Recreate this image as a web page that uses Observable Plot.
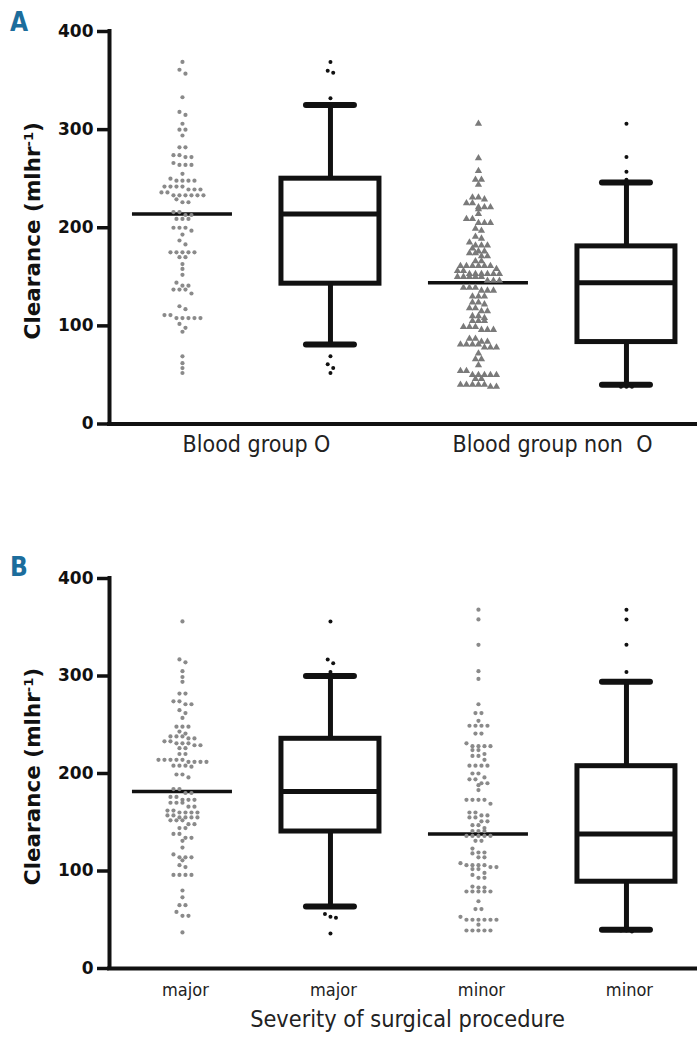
<!DOCTYPE html>
<html><head><meta charset="utf-8">
<script src="https://cdn.jsdelivr.net/npm/d3@7"></script>
<script src="https://cdn.jsdelivr.net/npm/@observablehq/plot@0.6"></script>
<style>
body{margin:0;background:#fff;}
#wrap{position:relative;width:697px;height:1042px;overflow:hidden;}
.panel{position:absolute;left:0;z-index:1;}
.tag{position:absolute;left:10px;z-index:5;font-family:"Liberation Sans Narrow","DejaVu Sans Condensed","Liberation Sans",sans-serif;font-weight:bold;font-size:26px;line-height:26px;color:#1c6d9c;}
svg text{white-space:pre;}
</style></head><body>
<div id="wrap">
<div class="panel" id="pa" style="top:0px"></div>
<div class="panel" id="pb" style="top:470px"></div>
<div class="tag" style="top:9px">A</div>
<div class="tag" style="top:554px">B</div>
</div>
<script>
// ---------- Data ----------
const yTicks = [0, 100, 200, 300, 400];
const yTitle = "Clearance (mlhr-1)";

// Panel A
const A_groups = ["Blood group O", "Blood group non  O"];
const A_valuesO = [369, 361, 357, 333, 318, 315, 306, 300, 300, 294, 282, 282, 274, 274, 272, 272, 266, 264, 264, 264, 255, 250, 248, 248, 248, 248, 242, 242, 242, 242, 239, 239, 239, 236, 236, 233, 233, 233, 233, 233, 233, 229, 226, 226, 216, 216, 213, 213, 209, 209, 209, 200, 200, 200, 197, 193, 187, 183, 175, 175, 175, 175, 175, 170, 170, 163, 158, 152, 144, 141, 141, 137, 137, 137, 133, 120, 117, 111, 111, 108, 108, 108, 108, 108, 102, 98, 94, 69, 62, 57, 52];
const A_valuesNonO = [306, 271, 258, 249, 249, 244, 231, 231, 229, 225, 225, 221, 221, 221, 219, 214, 209, 209, 205, 205, 205, 199, 197, 191, 189, 185, 182, 182, 182, 179, 176, 176, 174, 174, 171, 171, 166, 166, 161, 161, 161, 161, 161, 161, 158, 156, 156, 153, 153, 153, 153, 153, 153, 150, 150, 150, 150, 150, 146, 146, 146, 139, 139, 139, 136, 136, 136, 130, 130, 130, 124, 124, 122, 118, 118, 115, 115, 110, 110, 108, 105, 105, 105, 99, 99, 99, 96, 96, 96, 87, 87, 84, 84, 81, 81, 81, 81, 78, 78, 78, 72, 66, 66, 60, 54, 54, 50, 50, 50, 50, 50, 46, 46, 40, 40, 40, 40, 40, 38, 38];
const A_median = [214, 144];
const A_q1 = [143, 83.5];
const A_q3 = [250, 181];
const A_whiskerLo = [81, 40];
const A_whiskerHi = [325, 246];
const A_outliersO = [369, 360, 358, 332, 69, 61, 57, 52];
const A_outliersNonO = [306, 272, 257, 249, 38, 38, 38];

// Panel B
const B_groups = ["major", "minor"];
const B_axisTitle = "Severity of surgical procedure";
const B_valuesMajor = [356, 317, 314, 305, 299, 294, 282, 282, 274, 274, 271, 271, 265, 262, 257, 248, 248, 248, 243, 241, 238, 238, 238, 236, 236, 233, 233, 231, 231, 231, 229, 229, 226, 226, 220, 220, 214, 214, 214, 214, 214, 212, 212, 212, 212, 208, 208, 208, 207, 199, 199, 196, 184, 184, 180, 180, 176, 176, 173, 173, 173, 170, 170, 170, 166, 166, 162, 162, 160, 160, 160, 160, 157, 157, 155, 155, 155, 155, 152, 152, 152, 148, 148, 144, 144, 138, 138, 134, 134, 131, 124, 117, 114, 114, 114, 111, 106, 104, 96, 96, 96, 96, 80, 73, 65, 65, 58, 54, 54, 37];
const B_valuesMinor = [368, 358, 332, 305, 297, 271, 262, 262, 254, 249, 249, 249, 249, 241, 241, 231, 228, 228, 228, 228, 224, 224, 220, 218, 218, 214, 208, 208, 208, 208, 200, 200, 196, 194, 194, 190, 190, 188, 183, 173, 173, 173, 173, 169, 160, 160, 157, 157, 155, 155, 151, 151, 147, 147, 144, 141, 141, 141, 136, 136, 136, 136, 136, 131, 131, 123, 119, 119, 118, 114, 114, 108, 106, 106, 106, 106, 104, 104, 102, 102, 98, 96, 93, 93, 84, 83, 83, 79, 79, 79, 79, 79, 69, 61, 61, 53, 50, 50, 50, 50, 50, 50, 45, 39, 39, 39, 39, 39];
const B_median = [181.5, 138];
const B_q1 = [140.5, 89];
const B_q3 = [235.6, 207.5];
const B_whiskerLo = [63.6, 39.7];
const B_whiskerHi = [300, 294];
const B_outliersMajor = [356, 317, 313, 304, 56, 53, 52, 36];
const B_outliersMinor = [368, 358, 332, 304, 39, 39, 38];

// ---------- Layout helpers ----------
const W = 697, ML = 109;
const xDomain = [-0.493, 3.48];
const pxPerX = (W - ML) / (xDomain[1] - xDomain[0]);

// simple column-scatter (beeswarm-like) layout computed from the values
function swarm(values, pos, pxPerY, rowPx = 4.5, stepPx = 6) {
  const sorted = values.slice().sort((a, b) => b - a);
  const rows = []; let cur = [];
  for (const v of sorted) {
    if (cur.length && (cur[0] - v) * pxPerY > rowPx) { rows.push(cur); cur = []; }
    cur.push(v);
  }
  if (cur.length) rows.push(cur);
  const out = [];
  for (const r of rows) {
    const n = r.length;
    r.forEach((v, i) => out.push({x: pos + (i - (n - 1) / 2) * stepPx / pxPerX, y: v}));
  }
  return out;
}

const condensed = "Liberation Sans Narrow, DejaVu Sans Condensed, Liberation Sans, sans-serif";

function makePanel(cfg) {
  const pxPerY = (cfg.height - cfg.marginTop - cfg.marginBottom) / 400;
  const dots = [], outs = [], meds = [], boxes = [];
  cfg.groups.forEach((g, i) => {
    const sp = 2 * i, bp = 2 * i + 1;
    swarm(cfg.values[i], sp, pxPerY).forEach(d => dots.push({...d, sym: cfg.symbols[i]}));
    swarm(cfg.outliers[i], bp, pxPerY, 4.5, 5.5).forEach(d => outs.push(d));
    meds.push({x: sp, y: cfg.median[i]});
    boxes.push({x: bp, q1: cfg.q1[i], med: cfg.median[i], q3: cfg.q3[i], lo: cfg.lo[i], hi: cfg.hi[i]});
  });
  const halfLine = 50 / pxPerX, halfBox = 49 / pxPerX, halfCap = 24 / pxPerX;
  const marks = [
    Plot.ruleY(meds, {y: "y", x1: d => d.x - halfLine, x2: d => d.x + halfLine, stroke: "#111", strokeWidth: 3.5}),
    Plot.dot(dots.filter(d => d.sym === "circle"), {x: "x", y: "y", r: 2.1, fill: "#8a8a8a", symbol: "circle"}),
    Plot.dot(dots.filter(d => d.sym === "triangle"), {x: "x", y: "y", r: 2.7, fill: "#7a7a7a", symbol: "triangle"}),
    Plot.ruleX(boxes, {x: "x", y1: "q3", y2: "hi", stroke: "#111", strokeWidth: 5}),
    Plot.ruleX(boxes, {x: "x", y1: "q1", y2: "lo", stroke: "#111", strokeWidth: 5}),
    Plot.ruleY(boxes, {y: "hi", x1: d => d.x - halfCap, x2: d => d.x + halfCap, stroke: "#111", strokeWidth: 6, strokeLinecap: "round"}),
    Plot.ruleY(boxes, {y: "lo", x1: d => d.x - halfCap, x2: d => d.x + halfCap, stroke: "#111", strokeWidth: 6, strokeLinecap: "round"}),
    Plot.rect(boxes, {x1: d => d.x - halfBox, x2: d => d.x + halfBox, y1: "q1", y2: "q3", fill: "white", stroke: "#111", strokeWidth: 5}),
    Plot.ruleY(boxes, {y: "med", x1: d => d.x - halfBox, x2: d => d.x + halfBox, stroke: "#111", strokeWidth: 5}),
    Plot.dot(outs, {x: "x", y: "y", r: 2, fill: "#111"}),
    Plot.ruleX([xDomain[0]], {stroke: "#111", strokeWidth: 4, strokeLinecap: "square"}),
    Plot.ruleY([0], {stroke: "#111", strokeWidth: 4, strokeLinecap: "square"}),
    Plot.axisY(yTicks, {tickSize: 12, tickPadding: 4, stroke: "#111", strokeWidth: 3.5, fontSize: 17, fontWeight: "bold", fontFamily: "DejaVu Sans", label: null}),
    Plot.text([yTitle], {frameAnchor: "left", textAnchor: "middle", dx: -76, dy: 3, rotate: -90, fontSize: 21.5, fontWeight: "bold", fontFamily: "DejaVu Sans", fill: "#111"}),
    Plot.text(cfg.xLabels, {x: "x", y: () => 0, text: "t", dy: cfg.labelDy, fontSize: cfg.labelSize, fontFamily: condensed, fill: "#222"})
  ];
  if (cfg.axisTitle) {
    marks.push(Plot.text([cfg.axisTitle], {frameAnchor: "bottom", dx: 4, dy: cfg.titleDy, fontSize: cfg.titleSize, fontFamily: condensed, fill: "#222"}));
  }
  const svg = Plot.plot({
    width: W, height: cfg.height,
    marginLeft: ML, marginRight: 0, marginTop: cfg.marginTop, marginBottom: cfg.marginBottom,
    x: {domain: xDomain, axis: null},
    y: {domain: [0, 400], axis: null},
    style: {background: "white", overflow: "visible"},
    marks
  });
  // bold y tick labels
  d3.select(svg).selectAll('g[aria-label="y-axis tick label"]')
    .attr("font-weight", "bold").attr("font-size", 17).attr("font-family", "DejaVu Sans").attr("fill", "#111");
  // superscript the exponent in the y title
  d3.select(svg).selectAll("text").each(function() {
    if (this.textContent === yTitle) {
      const t = d3.select(this);
      t.text(null);
      t.append("tspan").text("Clearance (mlhr");
      t.append("tspan").attr("baseline-shift", "super").attr("font-size", "13").text("-1");
      t.append("tspan").text(")");
    }
  });
  return svg;
}

const xLabelsA = A_groups.map((t, i) => ({x: 2 * i + 0.5, t}));
const xLabelsB = [0, 1, 2, 3].map(c => ({x: c + 0.02, t: B_groups[Math.floor(c / 2)]}));

document.getElementById("pa").appendChild(makePanel({
  height: 470, marginTop: 31, marginBottom: 46.5,
  groups: A_groups, values: [A_valuesO, A_valuesNonO], symbols: ["circle", "triangle"],
  outliers: [A_outliersO, A_outliersNonO],
  median: A_median, q1: A_q1, q3: A_q3, lo: A_whiskerLo, hi: A_whiskerHi,
  xLabels: xLabelsA, labelDy: 21, labelSize: 23
}));
document.getElementById("pb").appendChild(makePanel({
  height: 572, marginTop: 108, marginBottom: 74,
  groups: B_groups, values: [B_valuesMajor, B_valuesMinor], symbols: ["circle", "circle"],
  outliers: [B_outliersMajor, B_outliersMinor],
  median: B_median, q1: B_q1, q3: B_q3, lo: B_whiskerLo, hi: B_whiskerHi,
  xLabels: xLabelsB, labelDy: 22, labelSize: 18,
  axisTitle: B_axisTitle, titleDy: 58, titleSize: 23.3
}));
</script>
</body></html>
